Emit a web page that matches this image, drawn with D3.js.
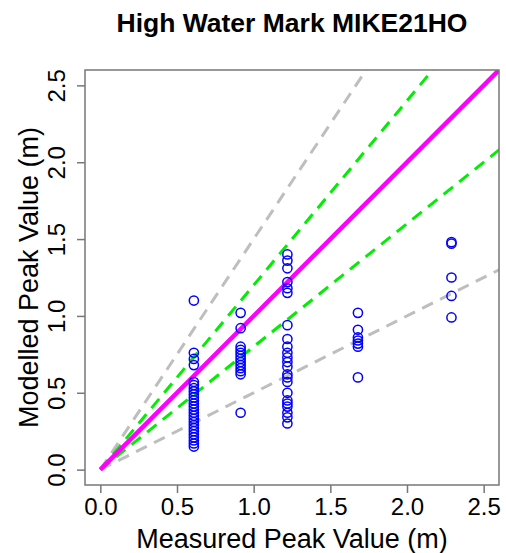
<!DOCTYPE html>
<html>
<head>
  <meta charset="utf-8">
  <title>High Water Mark MIKE21HO</title>
  <style type="text/css">
    body { margin: 0; padding: 0; background: #fff; }
    svg text { font-family: "Liberation Sans", Arial, sans-serif; fill: #000; }
  </style>
  <script src="https://d3js.org/d3.v7.min.js"></script>
</head>
<body>
  <div id="chart"></div>
  <script>
    // measured peak values (m) for each gauge group
    var measured = [0.61, 0.915, 1.22, 1.68, 2.29];
    // modelled peak values (m), one list per group
    var modelled = [
      [1.10, 0.76, 0.72, 0.68, 0.57, 0.55, 0.53, 0.51, 0.49, 0.47, 0.45, 0.43, 0.41, 0.39, 0.37,
       0.35, 0.33, 0.31, 0.29, 0.27, 0.25, 0.23, 0.21, 0.19, 0.17, 0.15],
      [1.02, 0.92, 0.80, 0.78, 0.76, 0.74, 0.72, 0.70, 0.68, 0.66, 0.64, 0.62, 0.37],
      [1.40, 1.36, 1.31, 1.22, 1.18, 1.15, 0.94, 0.85, 0.80, 0.76, 0.73, 0.70, 0.67, 0.62,
       0.60, 0.57, 0.50, 0.45, 0.43, 0.41, 0.37, 0.34, 0.30],
      [1.02, 0.91, 0.86, 0.84, 0.82, 0.80, 0.60],
      [1.48, 1.47, 1.25, 1.13, 0.99]
    ];
    // reference lines: 1:1, +/-20 %, +/-50 %
    var perfectSlope = [1];
    var greenSlopes = [1.2, 0.8];
    var greySlopes = [1.5, 0.5];
    var ticks = [0, 0.5, 1, 1.5, 2, 2.5];

    var W = 506, H = 553;
    var pLeft = 85, pRight = 499, pTop = 70, pBottom = 485;

    var svg = d3.select("#chart").append("svg")
      .attr("width", W)
      .attr("height", H);

    var x = d3.scaleLinear().domain([-0.1, 2.6]).range([pLeft, pRight]);
    var y = d3.scaleLinear().domain([-0.1, 2.6]).range([pBottom, pTop]);

    svg.append("clipPath").attr("id", "plotclip")
      .append("rect")
      .attr("x", pLeft).attr("y", pTop)
      .attr("width", pRight - pLeft).attr("height", pBottom - pTop);

    var plot = svg.append("g").attr("clip-path", "url(#plotclip)");

    function drawLines(slopes, colour, width, dash) {
      plot.append("g").selectAll("line")
        .data(slopes)
        .join("line")
        .attr("x1", x(0)).attr("y1", y(0))
        .attr("x2", x(3)).attr("y2", function (d) { return y(3 * d); })
        .attr("stroke", colour)
        .attr("stroke-width", width)
        .attr("stroke-dasharray", dash);
    }
    drawLines(greySlopes, "#bebebe", 3, "12,8");
    drawLines(greenSlopes, "#00ee00", 3, "12,8");
    drawLines(perfectSlope, "#ff00ff", 4.5, null);

    // points
    var pts = [];
    measured.forEach(function (m, i) {
      modelled[i].forEach(function (v) { pts.push({ m: m, v: v }); });
    });
    plot.append("g").selectAll("circle")
      .data(pts)
      .join("circle")
      .attr("cx", function (d) { return x(d.m); })
      .attr("cy", function (d) { return y(d.v); })
      .attr("r", 4.6)
      .attr("fill", "none")
      .attr("stroke", "#0000ff")
      .attr("stroke-width", 1.5);

    // box
    svg.append("rect")
      .attr("x", pLeft).attr("y", pTop)
      .attr("width", pRight - pLeft).attr("height", pBottom - pTop)
      .attr("fill", "none")
      .attr("stroke", "#777")
      .attr("stroke-width", 1.5);

    // x axis
    var xa = svg.append("g").attr("transform", "translate(0," + pBottom + ")")
      .call(d3.axisBottom(x).tickValues(ticks).tickFormat(d3.format(".1f")).tickSize(8));
    xa.select(".domain").remove();
    xa.selectAll("line").attr("stroke", "#777").attr("stroke-width", 1.5);
    xa.selectAll("text").attr("font-size", 24).attr("dy", null).attr("y", 30);

    // y axis, labels turned like R
    var ya = svg.append("g").attr("transform", "translate(" + pLeft + ",0)")
      .call(d3.axisLeft(y).tickValues(ticks).tickFormat(d3.format(".1f")).tickSize(8));
    ya.select(".domain").remove();
    ya.selectAll("line").attr("stroke", "#777").attr("stroke-width", 1.5);
    ya.selectAll("text")
      .attr("font-size", 24)
      .attr("x", null).attr("dy", null)
      .attr("text-anchor", "middle")
      .attr("transform", "translate(-20,0) rotate(-90)");

    // titles
    svg.append("text")
      .attr("x", (pLeft + pRight) / 2).attr("y", 32)
      .attr("text-anchor", "middle")
      .attr("font-size", 26.5).attr("font-weight", "bold")
      .text("High Water Mark MIKE21HO");

    svg.append("text")
      .attr("x", (pLeft + pRight) / 2).attr("y", 548)
      .attr("text-anchor", "middle")
      .attr("font-size", 27)
      .text("Measured Peak Value (m)");

    svg.append("text")
      .attr("transform", "translate(38," + (pTop + pBottom) / 2 + ") rotate(-90)")
      .attr("text-anchor", "middle")
      .attr("font-size", 27)
      .text("Modelled Peak Value (m)");
  </script>
</body>
</html>
